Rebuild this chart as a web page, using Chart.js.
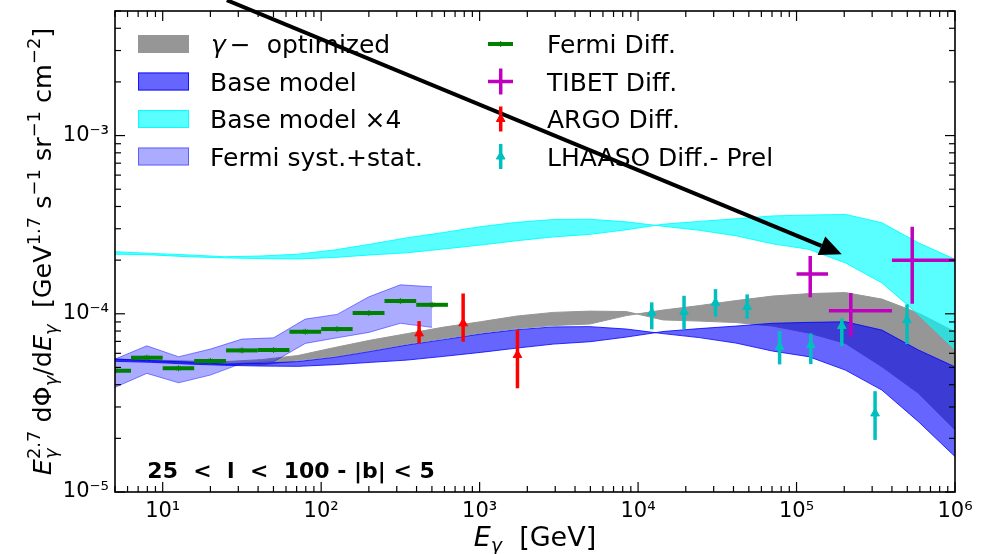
<!DOCTYPE html>
<html lang="en">
<head>
<meta charset="UTF-8">
<title>Diffuse gamma-ray spectrum, 25 &lt; l &lt; 100</title>
<script src="https://cdn.jsdelivr.net/npm/chart.js@4.4.8/dist/chart.umd.min.js"></script>
<style>
  html, body { margin: 0; padding: 0; background: #fff; }
</style>
</head>
<body>
<canvas id="spectrum" width="988" height="554"></canvas>
<script>
// axis ticks
const xTickVals = [10, 100, 1e3, 1e4, 1e5, 1e6];
const xTickLabels = ['10¹', '10²', '10³', '10⁴', '10⁵', '10⁶'];
const yTickVals = [1e-5, 1e-4, 1e-3];
const yTickLabels = ['10⁻⁵', '10⁻⁴', '10⁻³'];

// model energy grid (GeV)
const modelE = [5.01, 8.52, 14.5, 24.6, 41.9, 71.2, 121, 206, 350, 594, 1010, 1717, 2919, 4962,
  8435, 14340, 24380, 41440, 70440, 119800, 203500, 346000, 588200, 1000000];

// gamma-optimized band (two edges, they cross near 12 TeV)
const gammaOptA = [5.57e-5, 5.50e-5, 5.43e-5, 5.39e-5, 5.53e-5, 5.83e-5, 6.46e-5, 7.12e-5, 7.74e-5, 8.42e-5,
  9.02e-5, 9.71e-5, 1.018e-4, 1.035e-4, 1.029e-4, 9.24e-5, 9.10e-5, 8.93e-5, 8.53e-5, 7.79e-5,
  6.82e-5, 5.04e-5, 3.58e-5, 2.23e-5];
const gammaOptB = [5.50e-5, 5.39e-5, 5.29e-5, 5.19e-5, 5.16e-5, 5.46e-5, 5.75e-5, 6.22e-5, 6.76e-5, 7.26e-5,
  7.79e-5, 8.26e-5, 8.59e-5, 8.76e-5, 9.77e-5, 1.049e-4, 1.112e-4, 1.186e-4, 1.257e-4, 1.298e-4,
  1.315e-4, 1.209e-4, 1.009e-4, 7.93e-5];

// base model band
const baseA = [5.57e-5, 5.46e-5, 5.36e-5, 5.22e-5, 5.27e-5, 5.39e-5, 5.69e-5, 6.15e-5, 6.68e-5, 7.16e-5,
  7.69e-5, 8.14e-5, 8.44e-5, 8.47e-5, 8.21e-5, 7.74e-5, 7.35e-5, 6.85e-5, 6.18e-5, 5.74e-5,
  4.83e-5, 3.73e-5, 2.48e-5, 1.58e-5];
const baseB = [5.41e-5, 5.34e-5, 5.22e-5, 5.14e-5, 5.09e-5, 5.07e-5, 5.18e-5, 5.34e-5, 5.50e-5, 5.77e-5,
  6.07e-5, 6.42e-5, 6.76e-5, 6.97e-5, 7.40e-5, 7.95e-5, 8.26e-5, 8.53e-5, 8.84e-5, 8.95e-5,
  9.02e-5, 8.10e-5, 6.26e-5, 5.04e-5];

// base model x4 band
const base4A = [2.23e-4, 2.18e-4, 2.14e-4, 2.09e-4, 2.11e-4, 2.16e-4, 2.28e-4, 2.46e-4, 2.67e-4, 2.86e-4,
  3.08e-4, 3.26e-4, 3.38e-4, 3.39e-4, 3.28e-4, 3.10e-4, 2.94e-4, 2.74e-4, 2.47e-4, 2.30e-4,
  1.93e-4, 1.49e-4, 0.99e-4, 0.63e-4];
const base4B = [2.16e-4, 2.14e-4, 2.09e-4, 2.06e-4, 2.04e-4, 2.03e-4, 2.07e-4, 2.14e-4, 2.20e-4, 2.31e-4,
  2.43e-4, 2.57e-4, 2.70e-4, 2.79e-4, 2.96e-4, 3.18e-4, 3.30e-4, 3.41e-4, 3.54e-4, 3.58e-4,
  3.61e-4, 3.24e-4, 2.50e-4, 2.02e-4];

// Fermi diffuse data + syst.+stat. band
const fermiE = [5.01, 7.94, 12.6, 20.0, 31.6, 50.1, 79.4, 126, 200, 316, 501];
const fermiElo = [3.98, 6.31, 10, 15.8, 25.1, 39.8, 63.1, 100, 158, 251, 398];
const fermiEhi = [6.31, 10, 15.8, 25.1, 39.8, 63.1, 100, 158, 251, 398, 631];
const fermiFlux = [4.79e-5, 5.67e-5, 4.94e-5, 5.43e-5, 6.23e-5, 6.26e-5, 7.93e-5, 8.21e-5, 1.009e-4, 1.178e-4, 1.123e-4];
const fermiBandHi = [5.57e-5, 6.61e-5, 5.74e-5, 6.34e-5, 7.21e-5, 7.33e-5, 9.34e-5, 9.92e-5, 1.245e-4, 1.454e-4, 1.417e-4];
const fermiBandLo = [3.87e-5, 4.63e-5, 4.10e-5, 4.53e-5, 5.27e-5, 5.38e-5, 6.82e-5, 7.33e-5, 7.86e-5, 8.84e-5, 8.39e-5];

// TIBET
const tibetE = [1.22e5, 2.20e5, 5.37e5];
const tibetElo = [1.0e5, 1.6e5, 4.0e5];
const tibetEhi = [1.58e5, 4.0e5, 1.0e6];
const tibetFlux = [1.67e-4, 1.04e-4, 2.0e-4];
const tibetLo = [1.24e-4, 7.43e-5, 1.14e-4];
const tibetHi = [2.11e-4, 1.31e-4, 3.08e-4];

// ARGO
const argoE = [415, 787, 1733];
const argoFlux = [7.76e-5, 8.84e-5, 5.87e-5];
const argoLo = [6.82e-5, 6.97e-5, 3.82e-5];
const argoHi = [9.10e-5, 1.30e-4, 8.10e-5];

// LHAASO (preliminary)
const lhaasoE = [12200, 19500, 30800, 48800, 78200, 123000, 193000, 313000, 498000];
const lhaasoFlux = [1.013e-4, 1.026e-4, 1.153e-4, 1.095e-4, 6.53e-5, 6.68e-5, 8.53e-5, 2.76e-5, 9.22e-5];
const lhaasoLo = [8.18e-5, 8.21e-5, 9.62e-5, 9.38e-5, 5.20e-5, 5.22e-5, 6.59e-5, 1.96e-5, 6.76e-5];
const lhaasoHi = [1.159e-4, 1.262e-4, 1.375e-4, 1.285e-4, 8.0e-5, 7.76e-5, 9.42e-5, 3.68e-5, 1.129e-4];

const FONT = '"DejaVu Sans"';
const GREEN = '#008000', MAGENTA = '#bf00bf', RED = '#ff0000', TEAL = '#00bfbf';

const pts = (xs, ys) => xs.map((x, i) => ({x: x, y: ys[i]}));

function band(label, lo, hi, fillColor, edgeColor, order, xs) {
  xs = xs || modelE;
  return [
    {label: label, data: pts(xs, lo), borderColor: edgeColor, borderWidth: 1, pointRadius: 0,
     fill: false, tension: 0, order: order},
    {label: label + ' edge', data: pts(xs, hi), borderColor: edgeColor, borderWidth: 1, pointRadius: 0,
     fill: '-1', backgroundColor: fillColor, tension: 0, order: order}
  ];
}

function points(label, xs, ys, color, style, radius, err, order) {
  return {label: label, data: pts(xs, ys), showLine: false, pointStyle: style, pointRadius: radius,
    pointBackgroundColor: color, pointBorderColor: color, borderColor: color, pointBorderWidth: 1,
    err: err, order: order};
}

function setFont(ctx, size, italic, bold) {
  ctx.font = (italic ? 'italic ' : '') + (bold ? 'bold ' : '') + size + 'px ' + FONT;
}

// mixed text with italics, sub- and superscripts
function richText(ctx, parts, f, x, y, draw) {
  let cx = x;
  parts.forEach(p => {
    if (p.stack) {
      setFont(ctx, 0.7 * f, true);
      const w1 = ctx.measureText(p.stack[0]).width;
      if (draw) ctx.fillText(p.stack[0], cx, y + 0.24 * f);
      setFont(ctx, 0.7 * f, false);
      const w2 = ctx.measureText(p.stack[1]).width;
      if (draw) ctx.fillText(p.stack[1], cx, y - 0.45 * f);
      cx += Math.max(w1, w2);
      return;
    }
    const size = p.pos ? 0.7 * f : f;
    setFont(ctx, size, p.it);
    const dy = p.pos === 'sup' ? -0.45 * f : (p.pos === 'sub' ? 0.24 * f : 0);
    if (draw) ctx.fillText(p.t, cx, y + dy);
    cx += ctx.measureText(p.t).width;
  });
  return cx - x;
}

const yTitle = [
  {t: 'E', it: true}, {stack: ['γ', '2.7']}, {t: ' dΦ'}, {t: 'γ', it: true, pos: 'sub'},
  {t: '/d'}, {t: 'E', it: true}, {t: 'γ', it: true, pos: 'sub'},
  {t: '  [GeV'}, {t: '1.7', pos: 'sup'}, {t: ' s'}, {t: '−1', pos: 'sup'},
  {t: ' sr'}, {t: '−1', pos: 'sup'}, {t: ' cm'}, {t: '−2', pos: 'sup'}, {t: ']'}
];
const xTitle = [{t: 'E', it: true}, {t: 'γ', it: true, pos: 'sub'}, {t: '  [GeV]'}];

const errorBars = {
  id: 'errorBars',
  beforeDatasetDraw(chart, args) {
    const ds = chart.data.datasets[args.index];
    if (!ds.err) return;
    const {ctx, chartArea: a} = chart;
    const sx = chart.scales.x, sy = chart.scales.y;
    ctx.save();
    ctx.beginPath();
    ctx.rect(a.left, a.top, a.right - a.left, a.bottom - a.top);
    ctx.clip();
    ctx.strokeStyle = ds.borderColor;
    ctx.lineWidth = ds.err.width;
    ds.data.forEach((p, i) => {
      const px = sx.getPixelForValue(p.x), py = sy.getPixelForValue(p.y);
      ctx.beginPath();
      if (ds.err.xlo) {
        ctx.moveTo(sx.getPixelForValue(ds.err.xlo[i]), py);
        ctx.lineTo(sx.getPixelForValue(ds.err.xhi[i]), py);
      }
      if (ds.err.ylo) {
        ctx.moveTo(px, sy.getPixelForValue(ds.err.ylo[i]));
        ctx.lineTo(px, sy.getPixelForValue(ds.err.yhi[i]));
      }
      ctx.stroke();
    });
    ctx.restore();
  }
};

const frameAndTicks = {
  id: 'frameAndTicks',
  afterDatasetsDraw(chart) {
    const {ctx, chartArea: a} = chart;
    const sx = chart.scales.x, sy = chart.scales.y;
    ctx.save();
    ctx.strokeStyle = '#000';
    ctx.lineWidth = 1.2;
    const tick = (x1, y1, x2, y2) => { ctx.beginPath(); ctx.moveTo(x1, y1); ctx.lineTo(x2, y2); ctx.stroke(); };
    for (let d = 1; d <= 1e6; d *= 10) {
      for (let k = 1; k <= 9; k++) {
        const v = k * d;
        if (v < 5 || v > 1e6) continue;
        const px = sx.getPixelForValue(v), len = k === 1 ? 10 : 6;
        tick(px, a.bottom, px, a.bottom - len);
        tick(px, a.top, px, a.top + len);
      }
    }
    for (let d = 1e-5; d <= 1e-3 * 1.01; d *= 10) {
      for (let k = 1; k <= 9; k++) {
        const v = k * d;
        if (v > 5.01e-3) continue;
        const py = sy.getPixelForValue(v), len = k === 1 ? 10 : 6;
        tick(a.left, py, a.left + len, py);
        tick(a.right, py, a.right - len, py);
      }
    }
    ctx.lineWidth = 1.6;
    ctx.strokeRect(a.left, a.top, a.right - a.left, a.bottom - a.top);
    ctx.restore();
  }
};

const decorations = {
  id: 'decorations',
  afterDraw(chart) {
    const {ctx, chartArea: a} = chart;
    const sx = chart.scales.x, sy = chart.scales.y;
    ctx.save();
    ctx.fillStyle = '#000';
    ctx.textBaseline = 'alphabetic';

    // region label
    setFont(ctx, 22, false, true);
    ctx.fillText('25  <  l  <  100 - |b| < 5', sx.getPixelForValue(8.0), sy.getPixelForValue(1.2e-5));

    // arrow
    const x0 = sx.getPixelForValue(25.4), y0 = sy.getPixelForValue(5.75e-3);
    const x1 = sx.getPixelForValue(1.93e5), y1 = sy.getPixelForValue(2.16e-4);
    const ang = Math.atan2(y1 - y0, x1 - x0), hl = 22, hw = 10;
    const bx = x1 - hl * Math.cos(ang), by = y1 - hl * Math.sin(ang);
    ctx.strokeStyle = '#000';
    ctx.lineWidth = 4;
    ctx.beginPath(); ctx.moveTo(x0, y0); ctx.lineTo(bx, by); ctx.stroke();
    ctx.beginPath();
    ctx.moveTo(x1, y1);
    ctx.lineTo(bx + hw * Math.sin(ang), by - hw * Math.cos(ang));
    ctx.lineTo(bx - hw * Math.sin(ang), by + hw * Math.cos(ang));
    ctx.closePath(); ctx.fill();

    // axis titles
    const fx = 27;
    const wx = richText(ctx, xTitle, fx, 0, 0, false);
    richText(ctx, xTitle, fx, (a.left + a.right) / 2 - wx / 2, 546, true);
    const fy = 25.5;
    const wy = richText(ctx, yTitle, fy, 0, 0, false);
    ctx.save();
    ctx.translate(51, (a.top + a.bottom) / 2);
    ctx.rotate(-Math.PI / 2);
    richText(ctx, yTitle, fy, -wy / 2, 0, true);
    ctx.restore();

    // legend, column 1: bands
    const rows = [44, 81.5, 119, 156.5];
    const patches = [
      ['rgb(150,150,150)', 'rgb(150,150,150)'],
      ['rgba(0,0,255,0.6)', 'rgba(0,0,255,0.8)'],
      ['rgba(0,255,255,0.65)', 'rgba(0,255,255,0.9)'],
      ['rgba(0,0,255,0.33)', 'rgba(0,0,255,0.45)']
    ];
    patches.forEach((p, i) => {
      ctx.fillStyle = p[0]; ctx.strokeStyle = p[1]; ctx.lineWidth = 1;
      ctx.fillRect(138, rows[i] - 9, 51, 18);
      ctx.strokeRect(138.5, rows[i] - 8.5, 50, 17);
    });
    ctx.fillStyle = '#000';
    setFont(ctx, 25, true); ctx.fillText('γ', 211, rows[0] + 9);
    const gw = ctx.measureText('γ').width;
    setFont(ctx, 25, false);
    ctx.fillText('−  optimized', 211 + gw + 4, rows[0] + 9);
    ctx.fillText('Base model', 210, rows[1] + 9);
    ctx.fillText('Base model ×4', 210, rows[2] + 9);
    ctx.fillText('Fermi syst.+stat.', 210, rows[3] + 9);

    // legend, column 2: data sets
    const mx = 500.7;
    const seg = (c, w, xa, ya, xb, yb) => {
      ctx.strokeStyle = c; ctx.lineWidth = w;
      ctx.beginPath(); ctx.moveTo(xa, ya); ctx.lineTo(xb, yb); ctx.stroke();
    };
    const mark = (c, style, r, y) => {
      ctx.fillStyle = c; ctx.strokeStyle = c; ctx.lineWidth = 1;
      Chart.helpers.drawPoint(ctx, {pointStyle: style, radius: r, rotation: 0, borderWidth: 1}, mx, y);
    };
    seg(GREEN, 4, 488, rows[0], 513, rows[0]); mark(GREEN, 'star', 3, rows[0]);
    seg(MAGENTA, 3.5, 488, rows[1], 513, rows[1]); seg(MAGENTA, 3.5, mx, rows[1] - 13, mx, rows[1] + 13);
    seg(RED, 3.5, mx, rows[2] - 12.5, mx, rows[2] + 12.5); mark(RED, 'triangle', 5, rows[2]);
    seg(TEAL, 3.5, mx, rows[3] - 12.5, mx, rows[3] + 12.5); mark(TEAL, 'triangle', 5, rows[3]);
    ctx.fillStyle = '#000';
    setFont(ctx, 25, false);
    ctx.fillText('Fermi Diff.', 547, rows[0] + 9);
    ctx.fillText('TIBET Diff.', 547, rows[1] + 9);
    ctx.fillText('ARGO Diff.', 547, rows[2] + 9);
    ctx.fillText('LHAASO Diff.- Prel', 547, rows[3] + 9);
    ctx.restore();
  }
};

const datasets = [].concat(
  band('γ− optimized', gammaOptA, gammaOptB, 'rgb(150,150,150)', 'rgb(150,150,150)', 10),
  band('Base model', baseA, baseB, 'rgba(0,0,255,0.6)', 'rgba(0,0,255,0.8)', 9),
  band('Base model ×4', base4A, base4B, 'rgba(0,255,255,0.65)', 'rgba(0,255,255,0.9)', 8),
  band('Fermi syst.+stat.', fermiBandLo, fermiBandHi, 'rgba(0,0,255,0.33)', 'rgba(0,0,255,0.45)', 7, fermiE),
  [
    points('Fermi Diff.', fermiE, fermiFlux, GREEN, 'star', 3,
      {xlo: fermiElo, xhi: fermiEhi, width: 4}, 4),
    points('TIBET Diff.', tibetE, tibetFlux, MAGENTA, 'cross', 4,
      {xlo: tibetElo, xhi: tibetEhi, ylo: tibetLo, yhi: tibetHi, width: 3.5}, 3),
    points('ARGO Diff.', argoE, argoFlux, RED, 'triangle', 5,
      {ylo: argoLo, yhi: argoHi, width: 3.5}, 2),
    points('LHAASO Diff.- Prel', lhaasoE, lhaasoFlux, TEAL, 'triangle', 5,
      {ylo: lhaasoLo, yhi: lhaasoHi, width: 3.5}, 1)
  ]
);

Chart.defaults.font.family = FONT;
Chart.defaults.color = '#000';

new Chart(document.getElementById('spectrum'), {
  type: 'line',
  data: {datasets: datasets},
  options: {
    responsive: false,
    animation: false,
    layout: {padding: {top: 11, right: 33, left: 0, bottom: 0}},
    plugins: {legend: {display: false}, tooltip: {enabled: false}},
    scales: {
      x: {
        type: 'logarithmic', min: 5, max: 1e6,
        grid: {display: false, drawTicks: false},
        border: {display: false},
        afterBuildTicks: s => { s.ticks = xTickVals.map(v => ({value: v})); },
        afterFit: s => { s.height = 62; s.paddingLeft = 0; s.paddingRight = 0; },
        ticks: {autoSkip: false, maxRotation: 0, padding: 7, font: {size: 21},
          callback: (v, i) => xTickLabels[i]}
      },
      y: {
        type: 'logarithmic', min: 1e-5, max: 5e-3,
        grid: {display: false, drawTicks: false},
        border: {display: false},
        afterBuildTicks: s => { s.ticks = yTickVals.map(v => ({value: v})); },
        afterFit: s => { s.width = 115; s.paddingTop = 0; s.paddingBottom = 0; },
        ticks: {autoSkip: false, padding: 6, font: {size: 21},
          callback: (v, i) => yTickLabels[i]}
      }
    }
  },
  plugins: [errorBars, frameAndTicks, decorations]
});
</script>
</body>
</html>
